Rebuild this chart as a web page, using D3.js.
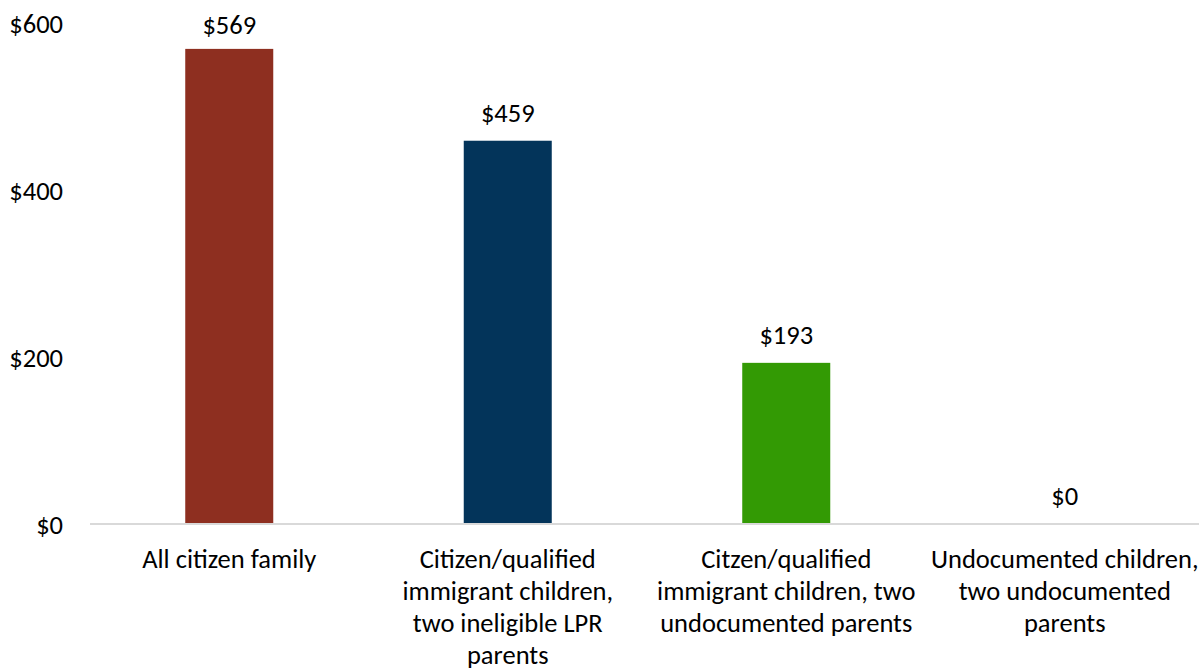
<!DOCTYPE html>
<html>
<head>
<meta charset="utf-8">
<script src="https://cdn.jsdelivr.net/npm/d3@7"></script>
<style>
  html, body { margin: 0; padding: 0; background: #fff; }
  svg { display: block; }
  text { font-family: Calibri, Carlito, Lato, sans-serif; fill: #000; }
</style>
</head>
<body>
<svg id="chart" width="1199" height="670"></svg>
<script>
// Monthly benefit by family immigration status
const categories = [
  "All citizen family",
  "Citizen/qualified immigrant children, two ineligible LPR parents",
  "Citzen/qualified immigrant children, two undocumented parents",
  "Undocumented children, two undocumented parents"
];
const categoryLines = [
  ["All citizen family"],
  ["Citizen/qualified", "immigrant children,", "two ineligible LPR", "parents"],
  ["Citzen/qualified", "immigrant children, two", "undocumented parents"],
  ["Undocumented children,", "two undocumented", "parents"]
];
const values = [569, 459, 193, 0];
const barColors = ["#8e2f20", "#03345a", "#339a04", "#7f7f7f"];
const yTicks = [0, 200, 400, 600];

const W = 1199, H = 670;
const margin = { top: 23, right: -5, bottom: 146, left: 90 };
const fontSize = 26.5;

const svg = d3.select("#chart");

const x = d3.scaleBand()
  .domain(categories)
  .range([margin.left, W - margin.right])
  .paddingInner(0.684)
  .paddingOuter(0.342);

const y = d3.scaleLinear()
  .domain([0, 600])
  .range([H - margin.bottom, margin.top]);

// Y axis labels (no axis line or ticks)
const yAxis = d3.axisLeft(y)
  .tickValues(yTicks)
  .tickFormat(d => "$" + d)
  .tickSize(0)
  .tickPadding(0);

const gy = svg.append("g")
  .attr("transform", `translate(${margin.left - 27},0)`)
  .call(yAxis);
gy.select(".domain").remove();
gy.selectAll("text")
  .attr("font-size", fontSize)
  .attr("font-family", null)
  .attr("dy", "0.34em")
  .style("fill", "#000");

// Bars
svg.append("g")
  .selectAll("rect")
  .data(values)
  .join("rect")
  .attr("x", (d, i) => x(categories[i]))
  .attr("width", x.bandwidth())
  .attr("y", d => y(d))
  .attr("height", d => y(0) - y(d))
  .attr("fill", (d, i) => barColors[i]);

// Baseline
svg.append("line")
  .attr("x1", margin.left)
  .attr("x2", W)
  .attr("y1", y(0))
  .attr("y2", y(0))
  .attr("stroke", "#d9d9d9")
  .attr("stroke-width", 2);

// Value labels above bars
svg.append("g")
  .selectAll("text")
  .data(values)
  .join("text")
  .attr("x", (d, i) => x(categories[i]) + x.bandwidth() / 2)
  .attr("y", d => Math.max(y(d) - 19, 34))
  .attr("text-anchor", "middle")
  .attr("font-size", fontSize)
  .text(d => "$" + d);

// Category labels, wrapped
const gx = svg.append("g");
categories.forEach((c, i) => {
  const t = gx.append("text")
    .attr("x", x(c) + x.bandwidth() / 2)
    .attr("y", y(0) + 44)
    .attr("text-anchor", "middle")
    .attr("font-size", fontSize);
  categoryLines[i].forEach((line, j) => {
    t.append("tspan")
      .attr("x", x(c) + x.bandwidth() / 2)
      .attr("dy", j === 0 ? 0 : 32)
      .text(line);
  });
});
</script>
</body>
</html>
